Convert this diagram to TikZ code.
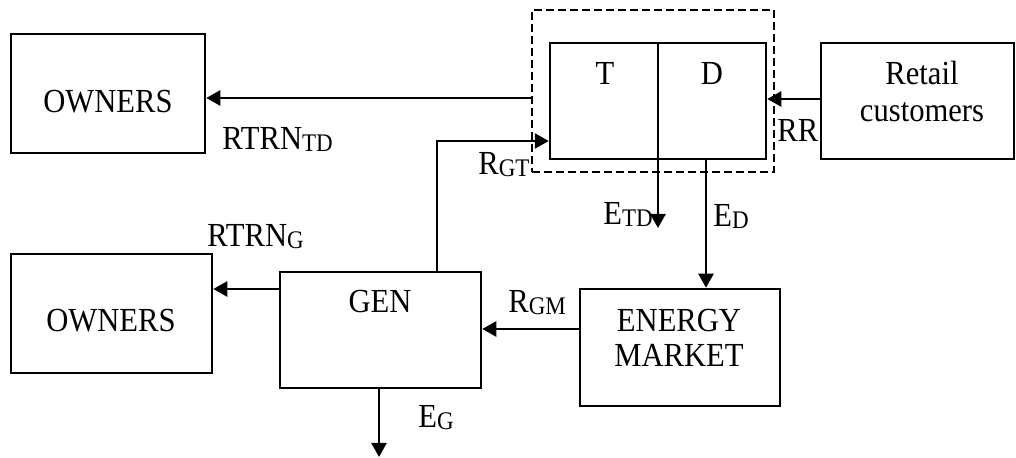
\documentclass[tikz,border=0pt]{standalone}
\usepackage{fontspec}
\setmainfont{Liberation Serif}
\usetikzlibrary{arrows.meta,fit}
\newcommand\st[1]{\scalebox{1}[1.1]{#1}}
\newcommand\sbx[1]{\raisebox{-0.9pt}{\fontsize{11.5}{13}\selectfont #1}}
\begin{document}
\begin{tikzpicture}[x=0.5pt,y=-0.5pt,
  box/.style={draw,line width=1.25pt,inner sep=0pt},
  dbox/.style={draw,line width=0.9pt,dash pattern=on 4pt off 2pt,inner sep=0pt},
  arr/.style={line width=1.25pt,-{Triangle[length=7pt,width=7.5pt]}},
  ln/.style={line width=1.25pt},
  txt/.style={inner sep=0pt,anchor=base,font=\fontsize{15.3}{18}\selectfont},
  lbl/.style={inner sep=0pt,anchor=base west,font=\fontsize{15.3}{18}\selectfont}]
\useasboundingbox (0,0) rectangle (1016,458);
% boxes
\node[box,fit={(11,34) (205,153)}] (own1) {};
\node[box,fit={(550,43) (766,159)}] (td) {};
\node[dbox,fit={(532,10) (774,172)}] (dash) {};
\node[box,fit={(821,43) (1014,159)}] (ret) {};
\node[box,fit={(11,254) (212,373)}] (own2) {};
\node[box,fit={(280,272) (481,388)}] (gen) {};
\node[box,fit={(580,289) (780,406)}] (mkt) {};
% texts in boxes
\node[txt] (tOwn1) at (108,113) {\st{OWNERS}};
\node[txt] (tT) at (605,85) {\st{T}};
\node[txt] (tD) at (712,85) {\st{D}};
\node[txt] (tRet1) at (922,85) {\st{Retail}};
\node[txt] (tRet2) at (922,122) {\st{customers}};
\node[txt] (tOwn2) at (111,332) {\st{OWNERS}};
\node[txt] (tGen) at (380,313) {\st{GEN}};
\node[txt] (tMkt1) at (679,332) {\st{ENERGY}};
\node[txt] (tMkt2) at (679,367) {\st{MARKET}};
% labels
\node[lbl] (lRtd) at (222,150) {\st{RTRN\sbx{TD}}};
\node[lbl] (lRgt) at (478,175) {\st{R\sbx{GT}}};
\node[lbl] (lRR) at (777,142) {\st{RR}};
\node[lbl] (lEtd) at (603,225) {\st{E\sbx{TD}}};
\node[lbl] (lEd) at (713,227) {\st{E\sbx{D}}};
\node[lbl] (lRg) at (207,247) {\st{RTRN\sbx{G}}};
\node[lbl] (lRgm) at (508,313) {\st{R\sbx{GM}}};
\node[lbl] (lEg) at (418,428) {\st{E\sbx{G}}};
% coordinates
\coordinate (c1) at (0,98);
\coordinate (c2) at (0,99);
\coordinate (c3) at (437,141);
\coordinate (etd) at (658,228);
\coordinate (c4) at (706,0);
\coordinate (c5) at (0,329);
\coordinate (c6) at (0,289);
\coordinate (eg) at (379,457);
% divider T | D
\draw[ln] (td.north -| etd) -- (td.south -| etd);
% connectors
\draw[arr] (dash.west |- c1) -- (own1.east |- c1);
\draw[arr] (ret.west |- c2) -- (td.east |- c2);
\draw[arr] (gen.north -| c3) -- (c3) -- (td.west |- c3);
\draw[arr] (td.south -| etd) -- (etd);
\draw[arr] (td.south -| c4) -- (mkt.north -| c4);
\draw[arr] (mkt.west |- c5) -- (gen.east |- c5);
\draw[arr] (gen.west |- c6) -- (own2.east |- c6);
\draw[arr] (gen.south -| eg) -- (eg);
\end{tikzpicture}
\end{document}
